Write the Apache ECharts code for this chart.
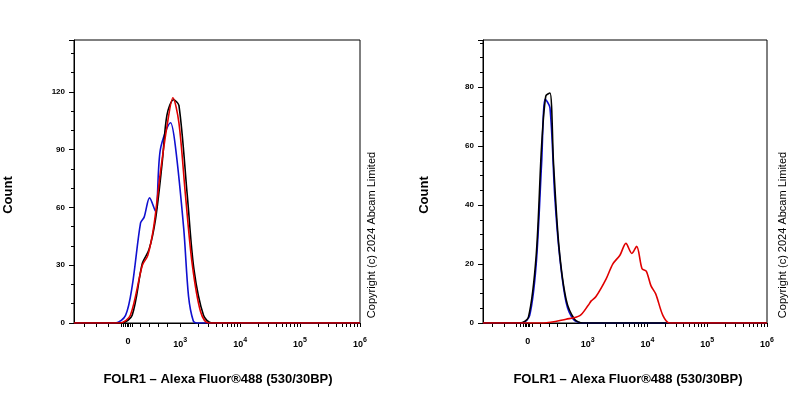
<!DOCTYPE html><html><head><meta charset="utf-8"><script src="https://cdn.jsdelivr.net/npm/echarts@6/dist/echarts.min.js"></script></head><body style="margin:0"><div id="c" style="width:800px;height:400px"></div><script>
const L_blue=[[1.23,0],[1.92,0],[2.09,4],[2.20,19],[2.34,52],[2.40,55],[2.49,65],[2.59,58],[2.67,90],[2.84,104],[2.92,92],[3.06,49],[3.14,14],[3.22,1],[3.28,0],[6,0]];
const L_red=[[1.23,0],[2.00,0],[2.17,4],[2.37,30],[2.46,35],[2.56,50],[2.67,78],[2.78,102],[2.88,117],[2.98,104],[3.09,66],[3.20,31],[3.34,6],[3.48,0],[6,0]];
const L_black=[[1.23,0],[2.03,0],[2.20,4],[2.37,31],[2.48,38],[2.59,54],[2.70,83],[2.78,108],[2.89,116],[2.98,113],[3.12,66],[3.23,28],[3.39,4],[3.53,0],[6,0]];
const R_blue=[[1.25,0],[1.90,0],[2.03,2.5],[2.14,20],[2.23,54],[2.29,76],[2.37,73],[2.45,43],[2.53,23],[2.64,7],[2.76,1.3],[2.92,0],[6,0]];
const R_black=[[1.25,0],[1.87,0],[2.01,2],[2.14,23],[2.23,60],[2.30,77],[2.37,78],[2.43,54],[2.52,26],[2.64,8],[2.78,1.3],[2.92,0],[6,0]];
const R_red=[[1.25,0],[2.26,0],[2.64,1.3],[2.87,2.5],[3.01,6],[3.06,7.5],[3.14,9],[3.31,15],[3.42,20],[3.54,23],[3.64,27],[3.74,23.6],[3.82,26],[3.91,18.4],[3.98,17.6],[4.06,12.6],[4.14,9.8],[4.26,2.5],[4.37,0],[6,0]];
const L_zero=2.13, R_zero=2.0;
const decades=[3,4,5,6];
const yTitle='Count', xTitle='FOLR1 – Alexa Fluor®488 (530/30BP)', copy='Copyright (c) 2024 Abcam Limited';
function ticks(z){const t=[];[1.4,1.6,1.8,z-0.12,z-0.08,z-0.05,z-0.02,z,z+0.03,z+0.07,z+0.2,z+0.35,z+0.5,z+0.65].forEach(v=>t.push(+v.toFixed(3)));
 decades.forEach(d=>{t.push(d);if(d<6)for(let k=2;k<10;k++)t.push(+(d+Math.log10(k)).toFixed(3));});return t;}
function xAxis(i,z,min){return {gridIndex:i,type:'value',min:min,max:6,axisLine:{onZero:false,lineStyle:{color:'#000'}},splitLine:{show:false},
 axisTick:{customValues:ticks(z),length:4,lineStyle:{color:'#000'}},
 axisLabel:{customValues:[z].concat(decades),margin:14,formatter:v=>Math.abs(v-z)<1e-6?'{b|0}':'{b|10}{s|'+v+'}',
  rich:{b:{fontSize:9,fontWeight:'bold',color:'#000',fontFamily:'Arial'},s:{fontSize:7,fontWeight:'bold',color:'#000',verticalAlign:'bottom',padding:[0,0,8,0]}}}};}
function yAxis(i,max,int,split){return {gridIndex:i,type:'value',min:0,max:max,interval:int,axisLine:{show:true,lineStyle:{color:'#000'}},splitLine:{show:false},
 axisTick:{show:true,length:5,lineStyle:{color:'#000'}},minorTick:{show:true,splitNumber:split,length:3,lineStyle:{color:'#000'}},
 axisLabel:{fontSize:8,fontWeight:'bold',color:'#000',fontFamily:'Arial',margin:9,formatter:v=>v>max-int/2+0.001&&v%int?'':v}};}
function s(x,y,d,c){return {type:'line',xAxisIndex:x,yAxisIndex:y,data:d,showSymbol:false,smooth:0.3,lineStyle:{color:c,width:1.6},z:c=='#e00000'?4:3};}
const ch=echarts.init(document.getElementById('c'));
ch.setOption({animation:false,
 grid:[{left:74,right:440,top:40,bottom:77,show:true,borderColor:'#000',borderWidth:1},{left:483,right:33,top:40,bottom:77,show:true,borderColor:'#000',borderWidth:1}],
 xAxis:[xAxis(0,L_zero,1.23),xAxis(1,R_zero,1.25)],
 yAxis:[yAxis(0,147,30,3),yAxis(1,96,20,4)],
 series:[s(0,0,L_blue,'#1010d0'),s(0,0,L_black,'#000'),s(0,0,L_red,'#e00000'),s(1,1,R_red,'#e00000'),s(1,1,R_blue,'#1010d0'),s(1,1,R_black,'#000')],
 graphic:[
  {type:'text',x:8,y:195,rotation:Math.PI/2,style:{text:yTitle,font:'bold 13px Arial',fill:'#000',align:'center',verticalAlign:'middle'}},
  {type:'text',x:424,y:195,rotation:Math.PI/2,style:{text:yTitle,font:'bold 13px Arial',fill:'#000',align:'center',verticalAlign:'middle'}},
  {type:'text',x:218,y:379,style:{text:xTitle,font:'bold 13px Arial',fill:'#000',align:'center',verticalAlign:'middle'}},
  {type:'text',x:628,y:379,style:{text:xTitle,font:'bold 13px Arial',fill:'#000',align:'center',verticalAlign:'middle'}},
  {type:'text',x:372,y:235,rotation:Math.PI/2,style:{text:copy,font:'11px Arial',fill:'#000',align:'center',verticalAlign:'middle'}},
  {type:'text',x:783,y:235,rotation:Math.PI/2,style:{text:copy,font:'11px Arial',fill:'#000',align:'center',verticalAlign:'middle'}}
 ]});
</script></body></html>
